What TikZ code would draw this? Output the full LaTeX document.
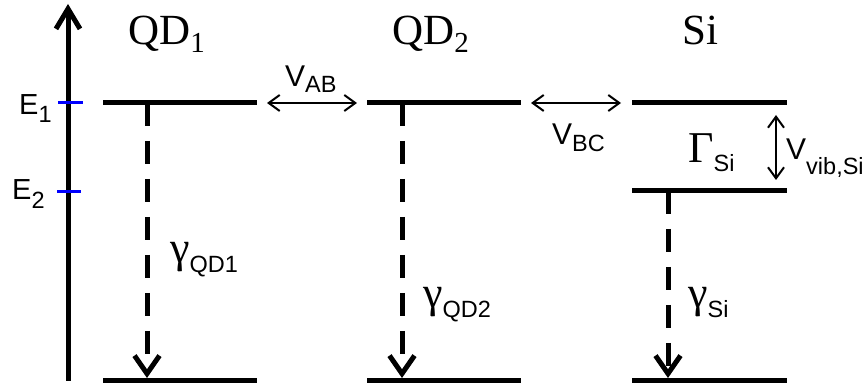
\documentclass[tikz,border=0pt]{standalone}
\usepackage{fontspec}
\setmainfont{Liberation Serif}
\setsansfont{Liberation Sans}
\usetikzlibrary{arrows.meta}
\newcommand\lbsub[2]{\raisebox{-#1pt}{\sffamily\fontsize{23.5}{23.5}\selectfont #2}}
\newcommand\tsub[1]{\raisebox{-8pt}{\fontsize{29}{29}\selectfont #1}}
\newcommand\grk[1]{{\rmfamily\fontsize{44}{44}\selectfont #1}}
\begin{document}
\begin{tikzpicture}[x=1pt,y=-1pt,
  level/.style={line width=5pt},
  axis/.style={line width=5pt,-{Straight Barb[length=20pt,width=24pt]}},
  decay/.style={line width=5pt,dash pattern=on 23pt off 15pt,-{Straight Barb[length=18pt,width=25pt]}},
  couple/.style={line width=2pt,{Straight Barb[length=11pt,width=16pt]}-{Straight Barb[length=11pt,width=16pt]}},
  tickmark/.style={line width=3pt,blue},
  lab/.style={anchor=base west,inner sep=0pt,font=\sffamily\fontsize{30}{30}\selectfont},
  elab/.style={anchor=base west,inner sep=0pt,font=\sffamily\fontsize{29}{29}\selectfont},
  title/.style={anchor=base west,inner sep=0pt,font=\rmfamily\fontsize{43}{43}\selectfont},
]
\useasboundingbox (0,0) rectangle (868,387);
% axis
\coordinate (ax0) at (68,381);
\coordinate (ax1) at (68,4);
\draw[axis] (ax0) -- (ax1);
\coordinate (t1a) at (58,103); \coordinate (t1b) at (83,103);
\coordinate (t2a) at (57,192); \coordinate (t2b) at (81,192);
\draw[tickmark] (t1a) -- (t1b);
\draw[tickmark] (t2a) -- (t2b);
\node[elab] (E1) at (19,115) {E\lbsub{8}{1}};
\node[elab] (E2) at (12,200) {E\lbsub{9}{2}};
% levels
\coordinate (A1l) at (103,103); \coordinate (A1r) at (257,103);
\coordinate (A0l) at (103,381); \coordinate (A0r) at (257,381);
\coordinate (B1l) at (367,103); \coordinate (B1r) at (521,103);
\coordinate (B0l) at (367,381); \coordinate (B0r) at (521,381);
\coordinate (C1l) at (632,103); \coordinate (C1r) at (787,103);
\coordinate (C2l) at (632,191); \coordinate (C2r) at (787,191);
\coordinate (C0l) at (632,381); \coordinate (C0r) at (787,381);
\foreach \p in {A1,A0,B1,B0,C1,C2,C0} \draw[level] (\p l) -- (\p r);
% decays
\coordinate (dA1) at (147,103); \coordinate (dA0) at (147,378);
\coordinate (dB1) at (402,103); \coordinate (dB0) at (402,378);
\coordinate (dC1) at (668,191); \coordinate (dC0) at (668,378);
\draw[decay] (dA1) -- (dA0);
\draw[decay] (dB1) -- (dB0);
\draw[decay] (dC1) -- (dC0);
% couplings
\draw[couple] ([xshift=10pt]A1r) -- ([xshift=-10pt]B1l);
\draw[couple] ([xshift=10pt]B1r) -- ([xshift=-11pt]C1l);
\coordinate (vv1) at (776,115); \coordinate (vv2) at (776,180);
\draw[couple] (vv1) -- (vv2);
% titles
\node[title] (T1) at (128,45) {QD\tsub{1}};
\node[title] (T2) at (392,45) {QD\tsub{2}};
\node[title] (T3) at (682,45) {Si};
% labels
\node[lab] (VAB) at (285,87) {V\lbsub{6}{AB}};
\node[lab] (VBC) at (552,145) {V\lbsub{7}{BC}};
\node[lab] (GSi) at (688,163) {\grk{Γ}\lbsub{9}{Si}};
\node[lab] (Vvib) at (786,160) {V\lbsub{15}{vib,Si}};
\node[lab] (gA) at (170,263) {\grk{γ}\lbsub{10}{QD1}};
\node[lab] (gB) at (423,308) {\grk{γ}\lbsub{10}{QD2}};
\node[lab] (gC) at (688,308) {\grk{γ}\lbsub{10}{Si}};
\end{tikzpicture}
\end{document}
